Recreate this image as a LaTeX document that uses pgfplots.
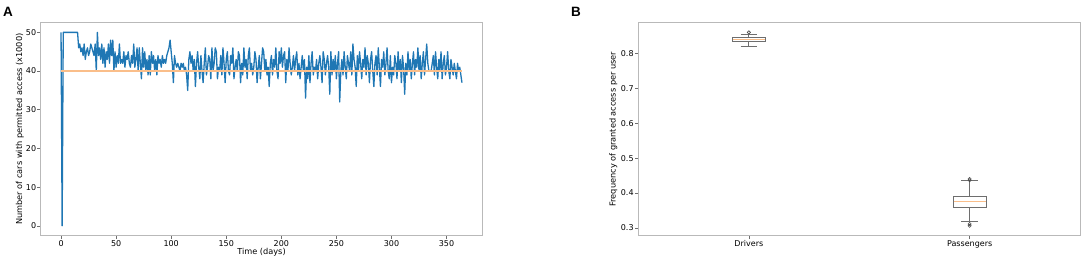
\documentclass[border=0pt]{standalone}
\usepackage{pgfplots}
\pgfplotsset{compat=1.18}
\usepackage{fontspec}
\setmainfont{DejaVu Sans}
\newfontfamily\arialf{Liberation Sans}
\definecolor{mblue}{HTML}{1F77B4}
\definecolor{lorange}{RGB}{250,190,138}
\definecolor{framegray}{RGB}{185,185,185}
\definecolor{boxgray}{RGB}{110,110,110}
\begin{document}
\begin{tikzpicture}
\path[use as bounding box] (0pt,0pt) rectangle (1084pt,260pt);
\pgfplotsset{
  every axis/.append style={
    scale only axis,
    font=\fontsize{8.2}{10}\selectfont,
    ticklabel style={font=\fontsize{8}{10}\selectfont},
    /pgf/number format/assume math mode=true,
    tick pos=left,
    tick align=outside,
    major tick length=3.5pt,
    axis line style={framegray, line width=1pt},
    every tick/.style={boxgray, line width=0.6pt},
    yticklabel style={inner xsep=1.2pt},
    xticklabel style={inner ysep=1.5pt},
  },
}
% Panel A
\begin{axis}[
  at={(41pt,24.5pt)}, anchor=south west,
  width=441pt, height=212.8pt,
  xmin=-18.2, xmax=382.2, ymin=-2.5, ymax=52.5,
  xtick={0,50,...,350}, ytick={0,10,...,50},
  xlabel={Time (days)},
  ylabel={Number of cars with permitted access (x1000)},
  every axis x label/.style={at={(axis description cs:0.5,-0.078)}, anchor=center},
  every axis y label/.style={at={(axis description cs:-0.048,0.5)}, rotate=90, anchor=center},
]
\addplot[mblue, line width=1.3pt, line join=round] coordinates {
(0,50)(1,0)(2,50)(3,50)(4,50)(5,50)(6,50)(7,50)(8,50)(9,50)
(10,50)(11,50)(12,50)(13,50)(14,50)(15,50)(16,46)(17,47)(18,45)(19,46)
(20,44)(21,47)(22,43)(23,45)(24,46)(25,44)(26,45)(27,47)(28,46)(29,45)
(30,44)(31,47)(32,40)(33,50)(34,44)(35,46)(36,43)(37,47)(38,42)(39,46)
(40,41)(41,45)(42,43)(43,47)(44,42)(45,48)(46,44)(47,48)(48,40)(49,45)
(50,41)(51,44)(52,42)(53,47)(54,42)(55,43)(56,42)(57,45)(58,41)(59,44)
(60,43)(61,45)(62,42)(63,41)(64,44)(65,42)(66,47)(67,41)(68,43)(69,46)
(70,40)(71,46)(72,42)(73,38)(74,46)(75,41)(76,45)(77,40)(78,43)(79,39)
(80,44)(81,39)(82,45)(83,42)(84,44)(85,40)(86,43)(87,39)(88,44)(89,42)
(90,43)(91,41)(92,44)(93,42)(94,43)(95,42)(96,44)(97,45)(98,46)(99,48)
(100,45)(101,42)(102,37)(103,44)(104,42)(105,41)(106,42)(107,41)(108,40)(109,42)
(110,41)(111,42)(112,40)(113,41)(114,39)(115,35)(116,43)(117,45)(118,42)(119,44)
(120,40)(121,43)(122,36)(123,42)(124,45)(125,41)(126,38)(127,44)(128,40)(129,37)
(130,42)(131,46)(132,39)(133,41)(134,44)(135,43)(136,38)(137,46)(138,40)(139,42)
(140,46)(141,45)(142,38)(143,41)(144,40)(145,44)(146,39)(147,46)(148,42)(149,37)
(150,43)(151,45)(152,40)(153,39)(154,44)(155,42)(156,46)(157,38)(158,41)(159,43)
(160,40)(161,45)(162,44)(163,37)(164,42)(165,39)(166,46)(167,41)(168,43)(169,38)
(170,44)(171,46)(172,40)(173,42)(174,39)(175,41)(176,45)(177,43)(178,37)(179,41)
(180,44)(181,38)(182,42)(183,46)(184,45)(185,40)(186,43)(187,39)(188,41)(189,36)
(190,42)(191,44)(192,39)(193,43)(194,41)(195,46)(196,40)(197,38)(198,45)(199,42)
(200,46)(201,41)(202,44)(203,45)(204,37)(205,43)(206,40)(207,46)(208,42)(209,39)
(210,41)(211,44)(212,40)(213,43)(214,45)(215,39)(216,42)(217,38)(218,41)(219,44)
(220,40)(221,43)(222,33)(223,41)(224,38)(225,44)(226,37)(227,42)(228,45)(229,39)
(230,41)(231,40)(232,43)(233,38)(234,42)(235,44)(236,41)(237,37)(238,45)(239,43)
(240,39)(241,42)(242,44)(243,41)(244,34)(245,45)(246,39)(247,43)(248,40)(249,44)
(250,38)(251,42)(252,45)(253,32)(254,40)(255,43)(256,39)(257,45)(258,41)(259,38)
(260,44)(261,42)(262,40)(263,45)(264,39)(265,47)(266,43)(267,41)(268,36)(269,44)
(270,40)(271,45)(272,42)(273,38)(274,43)(275,41)(276,46)(277,39)(278,44)(279,42)
(280,37)(281,43)(282,45)(283,40)(284,36)(285,42)(286,44)(287,39)(288,46)(289,41)
(290,36)(291,43)(292,41)(293,45)(294,39)(295,42)(296,46)(297,40)(298,38)(299,44)
(300,37)(301,41)(302,39)(303,44)(304,42)(305,38)(306,45)(307,40)(308,43)(309,37)
(310,44)(311,41)(312,34)(313,42)(314,39)(315,45)(316,40)(317,43)(318,38)(319,42)
(320,45)(321,39)(322,43)(323,41)(324,46)(325,40)(326,44)(327,38)(328,42)(329,45)
(330,39)(331,43)(332,47)(333,42)(334,40)(335,40)(336,40)(337,42)(338,44)(339,39)
(340,45)(341,41)(342,38)(343,43)(344,40)(345,45)(346,38)(347,42)(348,44)(349,39)
(350,41)(351,45)(352,40)(353,38)(354,43)(355,41)(356,39)(357,42)(358,40)(359,38)
(360,42)(361,40)(362,41)(363,39)(364,37)
};
\addplot[lorange, line width=2pt] coordinates {(0,40)(364,40)};
\end{axis}
% Panel B
\begin{axis}[
  at={(638.5pt,24.5pt)}, anchor=south west,
  width=441.5pt, height=212.8pt,
  xmin=0.5, xmax=2.5, ymin=0.27825, ymax=0.88875,
  xtick={1,2}, xticklabels={Drivers,Passengers},
  ytick={0.3,0.4,0.5,0.6,0.7,0.8},
  yticklabel style={/pgf/number format/.cd, fixed, fixed zerofill, precision=1},
  ylabel={Frequency of granted access per user},
  every axis y label/.style={at={(axis description cs:-0.057,0.5)}, rotate=90, anchor=center},
]
% Drivers box
\addplot[boxgray, line width=0.8pt] coordinates {(0.925,0.835)(1.075,0.835)(1.075,0.847)(0.925,0.847)(0.925,0.835)};
\addplot[boxgray, line width=0.8pt] coordinates {(1,0.847)(1,0.855)};
\addplot[boxgray, line width=0.8pt] coordinates {(1,0.835)(1,0.8205)};
\addplot[boxgray, line width=0.8pt] coordinates {(0.9625,0.855)(1.0375,0.855)};
\addplot[boxgray, line width=0.8pt] coordinates {(0.9625,0.8205)(1.0375,0.8205)};
\addplot[lorange, line width=1pt] coordinates {(0.927,0.841)(1.073,0.841)};
% Passengers box
\addplot[boxgray, line width=0.8pt] coordinates {(1.925,0.360)(2.075,0.360)(2.075,0.390)(1.925,0.390)(1.925,0.360)};
\addplot[boxgray, line width=0.8pt] coordinates {(2,0.390)(2,0.435)};
\addplot[boxgray, line width=0.8pt] coordinates {(2,0.360)(2,0.320)};
\addplot[boxgray, line width=0.8pt] coordinates {(1.9625,0.435)(2.0375,0.435)};
\addplot[boxgray, line width=0.8pt] coordinates {(1.9625,0.320)(2.0375,0.320)};
\addplot[lorange, line width=1pt] coordinates {(1.927,0.3745)(2.073,0.3745)};
% outliers
\addplot[only marks, mark=o, mark size=1.6pt, boxgray!70!black, line width=0.6pt] coordinates {(1,0.861)(2,0.4405)(2,0.437)(2,0.3115)(2,0.306)};
\end{axis}
\node[anchor=base west, inner sep=0pt, font=\arialf\bfseries\fontsize{13.5}{14}\selectfont] at (3pt,243.3pt) {A};
\node[anchor=base west, inner sep=0pt, font=\arialf\bfseries\fontsize{13.5}{14}\selectfont] at (571pt,243.3pt) {B};
\end{tikzpicture}
\end{document}
